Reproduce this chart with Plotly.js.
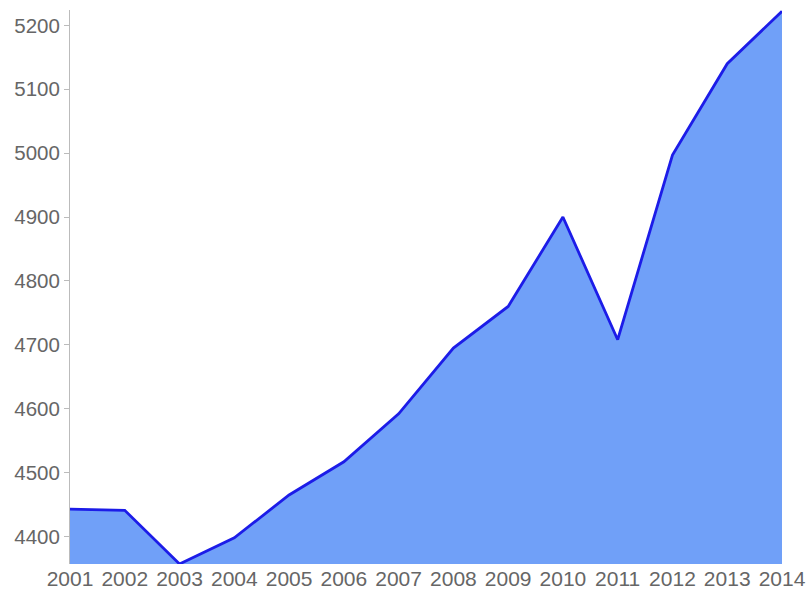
<!DOCTYPE html>
<html><head><meta charset="utf-8">
<script src="https://cdn.plot.ly/plotly-3.0.1.min.js"></script>
<style>html,body{margin:0;padding:0;background:#fff}#chart{width:809px;height:592px}</style>
</head><body><div id="chart"></div>
<script>
const years = [2001,2002,2003,2004,2005,2006,2007,2008,2009,2010,2011,2012,2013,2014];
const values = [4443,4441,4357,4398,4465,4517,4592,4695,4760,4900,4708,4997,5140,5222];
const yTicks = [4400,4500,4600,4700,4800,4900,5000,5100,5200];

const trace = {
  x: years, y: values, type: 'scatter', mode: 'lines',
  fill: 'tozeroy', fillcolor: 'rgb(112,160,248)',
  line: {color: 'rgb(28,28,232)', width: 2.8}
};
const layout = {
  width: 809, height: 592,
  margin: {l: 70, r: 27, t: 10, b: 28},
  paper_bgcolor: '#fff', plot_bgcolor: '#fff',
  showlegend: false,
  font: {family: 'Liberation Sans, Arial, sans-serif', size: 20, color: '#666'},
  xaxis: {
    range: [2001, 2014], tickvals: years, ticktext: years.map(String),
    showgrid: false, zeroline: false, showline: false, ticks: '',
    tickfont: {size: 21, color: '#666'}
  },
  yaxis: {
    range: [Math.min(...values), Math.max(...values)+2], tickvals: yTicks,
    showgrid: false, zeroline: false, showline: true, linecolor: '#bbb', linewidth: 1,
    ticks: 'outside', ticklen: 5, tickcolor: '#bbb',
    tickfont: {size: 20.5, color: '#666'}
  }
};
Plotly.newPlot('chart', [trace], layout, {displayModeBar: false, staticPlot: true});
</script></body></html>
